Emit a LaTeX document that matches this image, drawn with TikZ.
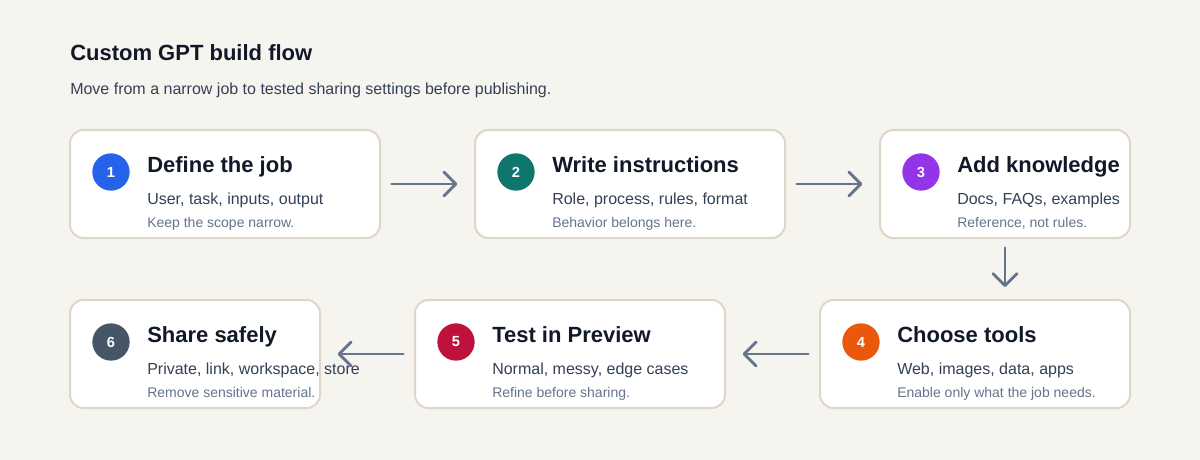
\documentclass[tikz,border=0pt]{standalone}
\usepackage{fontspec}
\setmainfont{Liberation Sans}
\usetikzlibrary{positioning,arrows.meta,calc}

\definecolor{paper}{HTML}{F6F4EF}
\definecolor{cardline}{HTML}{DED7C8}
\definecolor{ink}{HTML}{111827}
\definecolor{bodyink}{HTML}{334155}
\definecolor{noteink}{HTML}{64748B}
\definecolor{arrowink}{HTML}{64748B}
\definecolor{blueone}{HTML}{2563EB}
\definecolor{tealtwo}{HTML}{0F766E}
\definecolor{purplethree}{HTML}{9333EA}
\definecolor{orangefour}{HTML}{EA580C}
\definecolor{redfive}{HTML}{BE123C}
\definecolor{slatesix}{HTML}{475569}

\begin{document}
\begin{tikzpicture}[
        x=0.75pt, y=-0.75pt,
        card/.style={rectangle, rounded corners=10pt, draw=cardline, line width=1.5pt,
            fill=white, minimum height=81pt},
        wide/.style={minimum width=232.5pt},
        narrow/.style={minimum width=187.5pt},
        badge/.style={circle, inner sep=0pt, minimum size=28pt, text=white,
            font=\fontsize{11}{13}\selectfont\bfseries},
        steptitle/.style={anchor=base west, inner sep=0pt, text=ink,
            font=\fontsize{16.5}{19}\selectfont\bfseries},
        stepbody/.style={anchor=base west, inner sep=0pt, text=bodyink,
            font=\fontsize{12}{14}\selectfont},
        stepnote/.style={anchor=base west, inner sep=0pt, text=noteink,
            font=\fontsize{10.5}{12}\selectfont},
        flow/.style={draw=arrowink, line width=2.1pt, line cap=round,
            -{Straight Barb[length=9pt, width=18pt, round]},
            shorten <=8pt, shorten >=12.5pt}
    ]
    \useasboundingbox[fill=paper] (0,0) rectangle (1200,460);

    % heading
    \node (title) [anchor=base west, inner sep=0pt, text=ink,
        font=\fontsize{16.5}{19}\selectfont\bfseries] at (70,61) {Custom GPT build flow};
    \node (subtitle) [anchor=base west, inner sep=0pt, text=bodyink,
        font=\fontsize{12}{14}\selectfont] at (70,94)
        {Move from a narrow job to tested sharing settings before publishing.};

    % top row
    \node (job) [card, wide] at (225,184) {};
    \node (jobnum) [badge, fill=blueone] at ($(job.west)+(42,-12)$) {1};
    \node (jobtitle) [steptitle] at ($(job.west)+(78,-12)$) {Define the job};
    \node (jobbody) [stepbody] at ($(job.west)+(78,20)$) {User, task, inputs, output};
    \node (jobnote) [stepnote] at ($(job.west)+(78,43)$) {Keep the scope narrow.};

    \node (instr) [card, wide] at (630,184) {};
    \node (instrnum) [badge, fill=tealtwo] at ($(instr.west)+(42,-12)$) {2};
    \node (instrtitle) [steptitle] at ($(instr.west)+(78,-12)$) {Write instructions};
    \node (instrbody) [stepbody] at ($(instr.west)+(78,20)$) {Role, process, rules, format};
    \node (instrnote) [stepnote] at ($(instr.west)+(78,43)$) {Behavior belongs here.};

    \node (know) [card, narrow] at (1005,184) {};
    \node (knownum) [badge, fill=purplethree] at ($(know.west)+(42,-12)$) {3};
    \node (knowtitle) [steptitle] at ($(know.west)+(78,-12)$) {Add knowledge};
    \node (knowbody) [stepbody] at ($(know.west)+(78,20)$) {Docs, FAQs, examples};
    \node (knownote) [stepnote] at ($(know.west)+(78,43)$) {Reference, not rules.};

    % bottom row
    \node (tools) [card, wide] at (975,354) {};
    \node (toolsnum) [badge, fill=orangefour] at ($(tools.west)+(42,-12)$) {4};
    \node (toolstitle) [steptitle] at ($(tools.west)+(78,-12)$) {Choose tools};
    \node (toolsbody) [stepbody] at ($(tools.west)+(78,20)$) {Web, images, data, apps};
    \node (toolsnote) [stepnote] at ($(tools.west)+(78,43)$) {Enable only what the job needs.};

    \node (preview) [card, wide] at (570,354) {};
    \node (previewnum) [badge, fill=redfive] at ($(preview.west)+(42,-12)$) {5};
    \node (previewtitle) [steptitle] at ($(preview.west)+(78,-12)$) {Test in Preview};
    \node (previewbody) [stepbody] at ($(preview.west)+(78,20)$) {Normal, messy, edge cases};
    \node (previewnote) [stepnote] at ($(preview.west)+(78,43)$) {Refine before sharing.};

    \node (share) [card, narrow] at (195,354) {};
    \node (sharenum) [badge, fill=slatesix] at ($(share.west)+(42,-12)$) {6};
    \node (sharetitle) [steptitle] at ($(share.west)+(78,-12)$) {Share safely};
    \node (sharebody) [stepbody] at ($(share.west)+(78,20)$) {Private, link, workspace, store};
    \node (sharenote) [stepnote] at ($(share.west)+(78,43)$) {Remove sensitive material.};

    % connectors
    \draw[flow] (job.east) -- (instr.west);
    \draw[flow] (instr.east) -- (know.west);
    \draw[flow, shorten <=6.5pt, shorten >=9pt] (know.south) -- (know.south |- tools.north);
    \draw[flow] (tools.west) -- (preview.east);
    \draw[flow] (preview.west) -- (share.east);
\end{tikzpicture}
\end{document}
